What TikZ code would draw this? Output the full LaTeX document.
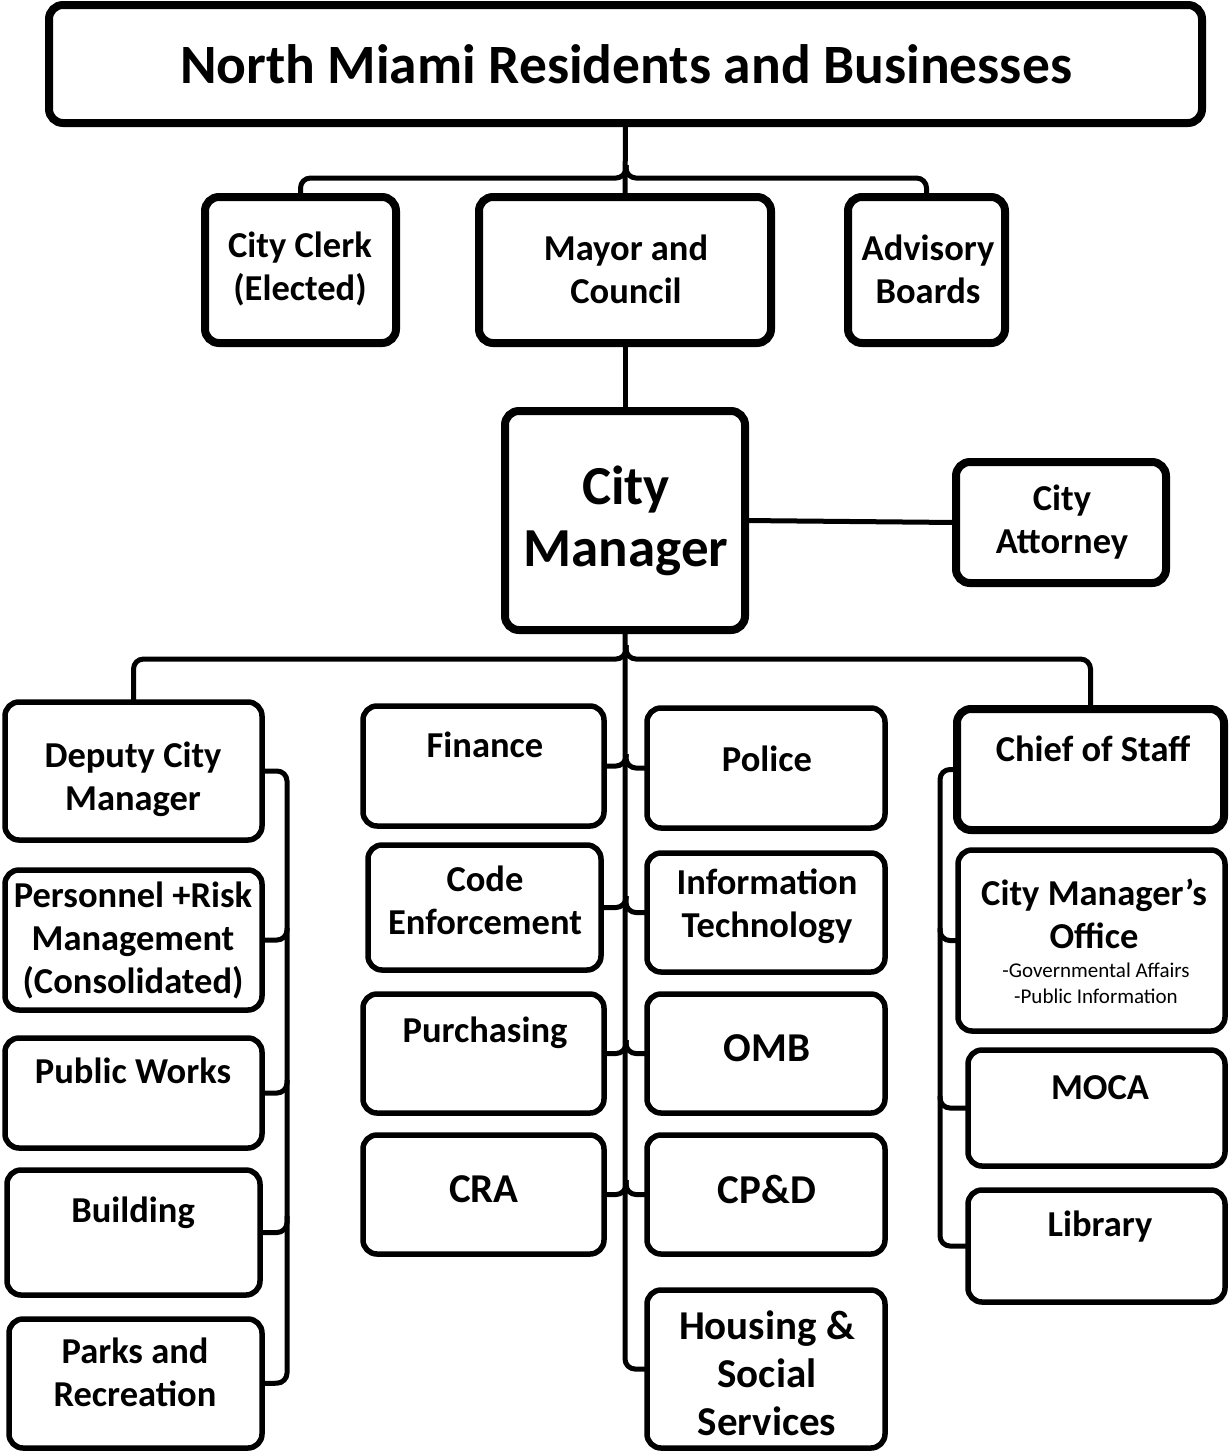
\documentclass[tikz,border=0pt]{standalone}
\usepackage{fontspec}
\setmainfont{Carlito}
\begin{document}
\begin{tikzpicture}[x=1pt,y=-1pt,
  box/.style={draw=black, rounded corners=14pt, line width=5.5pt, inner sep=0pt, outer sep=0pt, fill=white},
  thickbox/.style={box, line width=8pt},
  conn/.style={draw=black, line width=5pt, rounded corners=10pt},
  lab/.style={align=center, inner sep=0pt, font=\bfseries\fontsize{36.5}{43}\selectfont},
  biglab/.style={lab, font=\bfseries\fontsize{41}{48}\selectfont},
  smalllab/.style={align=center, inner sep=0pt, font=\fontsize{21}{26}\selectfont}
]
\newcommand\obox[6]{\node[#6, minimum width={(#4)-(#2)}, minimum height={(#5)-(#3)}] (#1) at ({((#2)+(#4))/2},{((#3)+(#5))/2}) {};}
\useasboundingbox[fill=white] (0,0) rectangle (1230,1454);
% boxes
\obox{top}{49}{5}{1202}{123}{thickbox}
\obox{clerk}{205}{197}{396}{343}{thickbox}
\obox{mayor}{479}{197}{771}{343}{thickbox}
\obox{adv}{848}{197}{1005}{343}{thickbox}
\obox{cm}{505}{411}{745}{630}{thickbox}
\obox{att}{956}{462}{1166}{583}{thickbox}
\obox{dep}{5}{702}{262}{840}{box}
\obox{pers}{5}{870}{262}{1010}{box}
\obox{pw}{5}{1038}{262}{1148}{box}
\obox{bld}{7}{1170}{260}{1295}{box}
\obox{parks}{9}{1319}{262}{1448}{box}
\obox{fin}{363}{706}{604}{826}{box}
\obox{code}{368}{845}{601}{970}{box}
\obox{pur}{363}{994}{604}{1113}{box}
\obox{cra}{363}{1135}{604}{1254}{box}
\obox{pol}{647}{708}{885}{828}{box}
\obox{it}{647}{853}{885}{972}{box}
\obox{omb}{647}{994}{885}{1113}{box}
\obox{cpd}{647}{1135}{885}{1254}{box}
\obox{hous}{647}{1290}{885}{1448}{box}
\obox{cos}{957}{709}{1224}{830}{thickbox}
\obox{cmo}{958}{850}{1225}{1031}{box}
\obox{moca}{968}{1050}{1225}{1166}{box}
\obox{lib}{968}{1190}{1225}{1302}{box}
% texts
\node[lab, font=\bfseries\fontsize{55.5}{60}\selectfont] (topT) at (626,64) {North Miami Residents and Businesses};
\node[lab] (clerkT) at (300,269) {City Clerk\\(Elected)};
\node[lab] (mayorT) at (626,269) {Mayor and\\Council};
\node[lab] (advT) at (928,269) {Advisory\\Boards};
\node[lab, font=\bfseries\fontsize{55}{62}\selectfont] (cmT) at (626,521) {City\\Manager};
\node[lab] (attT) at (1062,522) {City\\Attorney};
\node[lab] (depT) at (133,779) {Deputy City\\Manager};
\node[lab] (persT) at (133,940) {Personnel +Risk\\Management\\(Consolidated)};
\node[lab] (pwT) at (133,1071) {Public Works};
\node[lab] (bldT) at (133,1213) {Building};
\node[lab] (parksT) at (135,1372) {Parks and\\Recreation};
\node[lab] (finT) at (485,745) {Finance};
\node[lab] (codeT) at (485,900) {Code\\Enforcement};
\node[lab] (purT) at (485,1033) {Purchasing};
\node[biglab] (craT) at (484,1189) {CRA};
\node[lab] (polT) at (767,759) {Police};
\node[lab] (itT) at (767,906) {Information\\Technology};
\node[biglab] (ombT) at (767,1048) {OMB};
\node[biglab] (cpdT) at (767,1189) {CP\&D};
\node[biglab] (housT) at (767,1373) {Housing \&\\Social\\Services};
\node[lab] (cosT) at (1093,749) {Chief of Staff};
\node[lab] (cmoT) at (1094,914) {City Manager’s\\Office};
\node[smalllab] (cmoS) at (1096,983) {-Governmental Affairs\\-Public Information};
\node[lab] (mocaT) at (1100,1088) {MOCA};
\node[lab] (libT) at (1100,1227) {Library};
% connectors
\draw[conn] (top.south) -- (mayor.north);
\draw[conn] (clerk.north) |- (626,178) -- (626,165);
\draw[conn] (adv.north) |- (626,178) -- (626,165);
\draw[conn] (mayor.south) -- (cm.north);
\draw[conn] (cm.east) -- (att.west);
\draw[conn] (cm.south) |- (hous.west);
\draw[conn] (dep.north) |- (626,659) -- (626,645);
\draw[conn] (cos.north) |- (626,659) -- (626,645);
% center branches
\draw[conn] (fin.east) -| (626,754);
\draw[conn] (pol.west) -| (626,754);
\draw[conn] (code.east) -| (626,896);
\draw[conn] (it.west) -| (626,896);
\draw[conn] (pur.east) -| (626,1040);
\draw[conn] (omb.west) -| (626,1040);
\draw[conn] (cra.east) -| (626,1180);
\draw[conn] (cpd.west) -| (626,1180);
% left bus
\draw[conn] (dep.east) -| (287,1383) -- (parks.east);
\draw[conn] (pers.east) -| (287,928);
\draw[conn] (pw.east) -| (287,1080);
\draw[conn] (bld.east) -| (287,1216);
% right bus
\draw[conn] (cos.west) -| (940,1246) -- (lib.west);
\draw[conn] (cmo.west) -| (940,928);
\draw[conn] (moca.west) -| (940,1096);
\end{tikzpicture}
\end{document}
